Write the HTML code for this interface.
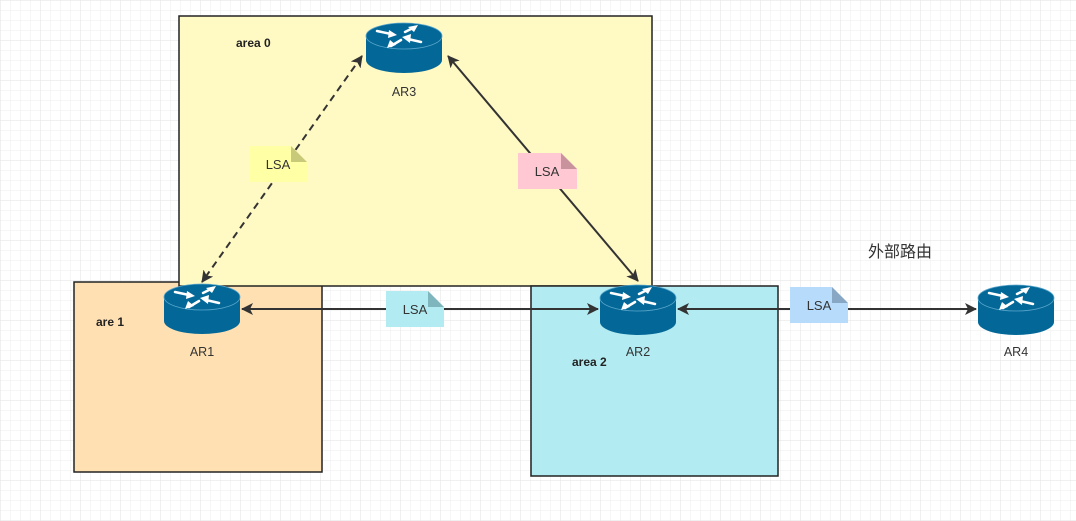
<!DOCTYPE html>
<html><head><meta charset="utf-8"><style>
html,body{margin:0;padding:0;width:1076px;height:521px;overflow:hidden;background:#fff;}
</style></head><body>
<svg width="1076" height="521" xmlns="http://www.w3.org/2000/svg" font-family="Liberation Sans, Noto Sans CJK SC, sans-serif">
<defs>
<pattern id="g" width="10" height="10" patternUnits="userSpaceOnUse"><path d="M10 0H0V10" fill="none" stroke="#eeeeee" stroke-width="1"/></pattern>
<pattern id="G" width="40" height="40" patternUnits="userSpaceOnUse"><rect width="40" height="40" fill="url(#g)"/><path d="M40 0H0V40" fill="none" stroke="#e2e2e2" stroke-width="1"/></pattern>
<marker id="a" markerWidth="12" markerHeight="12" refX="11" refY="6" orient="auto-start-reverse" markerUnits="userSpaceOnUse"><path d="M0,0 L12,6 L0,12 L3,6 z" fill="#333"/></marker>
<g id="r">
<path d="M0,13 V37 A38,13 0 0 0 76,37 V13 Z" fill="#036897"/>
<ellipse cx="38" cy="13" rx="38" ry="13" fill="#036897" stroke="#5aa6cc" stroke-width="0.8"/>
<g fill="none" stroke="#fff" stroke-width="2.5" stroke-linecap="round">
<path d="M11,8 L25,11"/><path d="M55,19 L42,16"/><path d="M49,4 L39,9"/><path d="M25,23 L35,17"/>
</g>
<g fill="#fff">
<path d="M31,12 L22,15 L23,7Z"/><path d="M36,14 L45,11 L44,20Z"/><path d="M52,2 L48,9 L42,4Z"/><path d="M21,25 L24,17 L30,22Z"/>
</g>
</g>
</defs>
<rect width="1076" height="521" fill="url(#G)"/>
<rect x="74" y="282" width="248" height="190" fill="#ffe0b3" stroke="#222" stroke-width="1.5"/>
<rect x="179" y="16" width="473" height="270" fill="#fff9c4" stroke="#222" stroke-width="1.5"/>
<rect x="531" y="286" width="247" height="190" fill="#b2ebf2" stroke="#222" stroke-width="1.5"/>
<g font-size="12" font-weight="bold" fill="#222">
<text x="236" y="47">area 0</text>
<text x="96" y="326">are 1</text>
<text x="572" y="366">area 2</text>
</g>
<line x1="362" y1="56" x2="202" y2="282" stroke="#333" stroke-width="2" stroke-dasharray="7,5" marker-start="url(#a)" marker-end="url(#a)"/>
<line x1="448" y1="56" x2="638" y2="281" stroke="#333" stroke-width="2" marker-start="url(#a)" marker-end="url(#a)"/>
<line x1="242" y1="309" x2="598" y2="309" stroke="#333" stroke-width="2" marker-start="url(#a)" marker-end="url(#a)"/>
<line x1="678" y1="309" x2="976" y2="309" stroke="#333" stroke-width="2" marker-start="url(#a)" marker-end="url(#a)"/>
<g font-size="13" fill="#333" text-anchor="middle">
<path d="M249,146 H291 L307,162 V182 H249Z" fill="#ffffa6"/><path d="M291,146 L307,162 H291Z" fill="#c9c97a"/><text x="278" y="169">LSA</text>
<path d="M518,153 H561 L577,169 V189 H518Z" fill="#ffc8d2"/><path d="M561,153 L577,169 H561Z" fill="#c9939e"/><text x="547" y="176">LSA</text>
<path d="M386,291 H428 L444,307 V327 H386Z" fill="#b3ebf2"/><path d="M428,291 L444,307 H428Z" fill="#7fb5bd"/><text x="415" y="314">LSA</text>
<path d="M790,287 H832 L848,303 V323 H790Z" fill="#b6dbfb"/><path d="M832,287 L848,303 H832Z" fill="#87a7c4"/><text x="819" y="310">LSA</text>
</g>
<use href="#r" x="366" y="23"/>
<use href="#r" x="164" y="284"/>
<use href="#r" x="600" y="285"/>
<use href="#r" x="978" y="285"/>
<g font-size="12.5" fill="#333" text-anchor="middle">
<text x="404" y="96">AR3</text>
<text x="202" y="356">AR1</text>
<text x="638" y="356">AR2</text>
<text x="1016" y="356">AR4</text>
</g>
<text x="868" y="257" font-size="16" fill="#333">外部路由</text>
</svg>
</body></html>
